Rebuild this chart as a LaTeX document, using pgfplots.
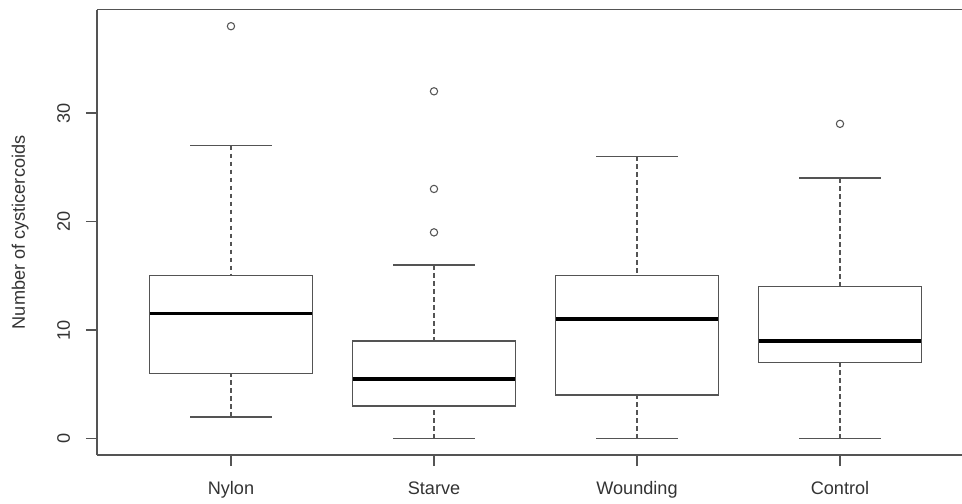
\documentclass[border=0pt]{standalone}
\usepackage{fontspec}
\setmainfont{Liberation Sans}
\usepackage{pgfplots}
\pgfplotsset{compat=1.18}
\usepgfplotslibrary{statistics}
\definecolor{rline}{gray}{0.33}
\begin{document}
\begin{tikzpicture}
\begin{axis}[
  at={(0,0)}, anchor=south west,
  scale only axis, width=648.75pt, height=334pt,
  xmin=0.34, xmax=4.601, ymin=-1.52, ymax=39.52,
  axis x line*=box, axis y line*=left,
  axis line style={rline, line width=1pt},
  xtick={1,2,3,4}, xticklabels={Nylon,Starve,Wounding,Control},
  ytick={0,10,20,30},
  xtick pos=bottom, ytick pos=left,
  tick align=outside, major tick length=8.25pt,
  tick style={rline, line width=1pt},
  /pgf/number format/assume math mode=true,
  ticklabel style={font=\fontsize{13.6}{16}\selectfont, inner sep=0pt, anchor=base, text=black!80},
  yticklabel style={xshift=-12pt, rotate=90},
  xticklabel style={yshift=-21.45pt},
  ylabel={Number of cysticercoids},
  ylabel style={at={(axis description cs:-0.08324,0.5)}, anchor=base, inner sep=0pt, font=\fontsize{13.6}{16}\selectfont, text=black!80},
  boxplot/draw direction=y,
  boxplot/box extend=0.8,
  boxplot/whisker extend=0.4,
  boxplot/every box/.style={rline, line width=1pt},
  boxplot/every median/.style={black, line width=2.6pt},
  boxplot/draw/lower whisker/.code={
    \draw[rline, line width=1pt, dash pattern=on 3.5pt off 2.5pt]
      (boxplot box cs:\pgfkeysvalueof{/pgfplots/boxplot/lower whisker},0.5) --
      (boxplot box cs:\pgfkeysvalueof{/pgfplots/boxplot/lower quartile},0.5);
    \draw[rline, line width=1pt, solid]
      (boxplot whisker cs:\pgfkeysvalueof{/pgfplots/boxplot/lower whisker},0) --
      (boxplot whisker cs:\pgfkeysvalueof{/pgfplots/boxplot/lower whisker},1);
  },
  boxplot/draw/upper whisker/.code={
    \draw[rline, line width=1pt, dash pattern=on 3.5pt off 2.5pt]
      (boxplot box cs:\pgfkeysvalueof{/pgfplots/boxplot/upper whisker},0.5) --
      (boxplot box cs:\pgfkeysvalueof{/pgfplots/boxplot/upper quartile},0.5);
    \draw[rline, line width=1pt, solid]
      (boxplot whisker cs:\pgfkeysvalueof{/pgfplots/boxplot/upper whisker},0) --
      (boxplot whisker cs:\pgfkeysvalueof{/pgfplots/boxplot/upper whisker},1);
  },
  every axis plot/.append style={rline, line width=1pt, mark=o, mark size=2.75pt, mark options={solid, rline, line width=0.8pt}},
]
% Nylon
\addplot[boxplot prepared={lower whisker=2, lower quartile=6, median=11.5, upper quartile=15, upper whisker=27}]
  coordinates {(0,38)};
% Starve
\addplot[boxplot prepared={lower whisker=0, lower quartile=3, median=5.5, upper quartile=9, upper whisker=16}]
  coordinates {(0,19) (0,23) (0,32)};
% Wounding
\addplot[boxplot prepared={lower whisker=0, lower quartile=4, median=11, upper quartile=15, upper whisker=26}]
  coordinates {};
% Control
\addplot[boxplot prepared={lower whisker=0, lower quartile=7, median=9, upper quartile=14, upper whisker=24}]
  coordinates {(0,29)};
\end{axis}
\pgfresetboundingbox
\path[use as bounding box] (-72.75pt,-36pt) rectangle (648.75pt,341.275pt);
\end{tikzpicture}
\end{document}
